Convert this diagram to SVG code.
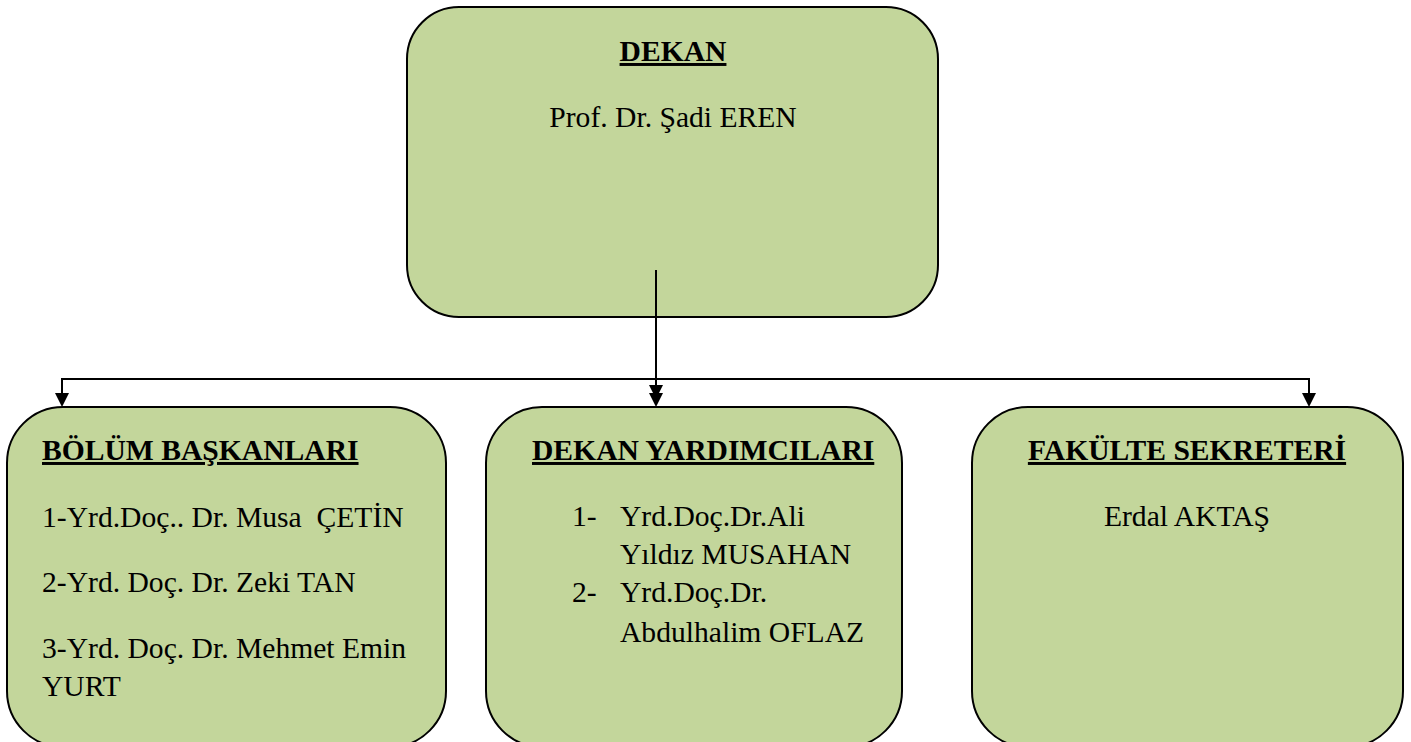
<svg xmlns="http://www.w3.org/2000/svg" width="1411" height="742" viewBox="0 0 1411 742">
<style>
.box{fill:#C3D69B;stroke:#000;stroke-width:2}
.t{font-family:"Liberation Serif","Times New Roman",serif;font-size:29.6px;fill:#000}
.h{font-weight:bold;text-decoration:underline}
.c{text-anchor:middle}
.con{fill:none;stroke:#000;stroke-width:2}
.ah{fill:#000}
</style>
<rect width="1411" height="742" fill="#fff"/>
<g id="dekan">
<rect class="box" x="407" y="7" width="531" height="310" rx="52" ry="52"/>
<text class="t h c" x="673" y="61">DEKAN</text>
<text class="t c" x="673" y="127">Prof. Dr. Şadi EREN</text>
</g>
<g id="bolum">
<rect class="box" x="7" y="407" width="439" height="340" rx="56" ry="56"/>
<text class="t h" x="42" y="460">BÖLÜM BAŞKANLARI</text>
<text class="t" x="42" y="527" xml:space="preserve">1-Yrd.Doç.. Dr. Musa  ÇETİN</text>
<text class="t" x="42" y="592">2-Yrd. Doç. Dr. Zeki TAN</text>
<text class="t" x="42" y="658">3-Yrd. Doç. Dr. Mehmet Emin</text>
<text class="t" x="42" y="696">YURT</text>
</g>
<g id="yardimci">
<rect class="box" x="486" y="407" width="416" height="340" rx="56" ry="56"/>
<text class="t h" x="532" y="460">DEKAN YARDIMCILARI</text>
<text class="t" x="572" y="526">1-</text>
<text class="t" x="620" y="526">Yrd.Doç.Dr.Ali</text>
<text class="t" x="620" y="564">Yıldız MUSAHAN</text>
<text class="t" x="572" y="602">2-</text>
<text class="t" x="620" y="602">Yrd.Doç.Dr.</text>
<text class="t" x="620" y="642">Abdulhalim OFLAZ</text>
</g>
<g id="sekreter">
<rect class="box" x="972" y="407" width="431" height="340" rx="56" ry="56"/>
<text class="t h c" x="1187" y="460">FAKÜLTE SEKRETERİ</text>
<text class="t c" x="1187" y="526">Erdal AKTAŞ</text>
</g>
<g id="connectors">
<line class="con" x1="656" y1="270" x2="656" y2="398"/>
<path class="ah" d="M649,385 L663,385 L656,399 z"/>
<path class="ah" d="M649,393 L663,393 L656,407 z"/>
<polyline class="con" points="62,396 62,379 1309,379 1309,396"/>
<path class="ah" d="M55,393 L69,393 L62,407 z"/>
<path class="ah" d="M1302,393 L1316,393 L1309,407 z"/>
</g>
</svg>
